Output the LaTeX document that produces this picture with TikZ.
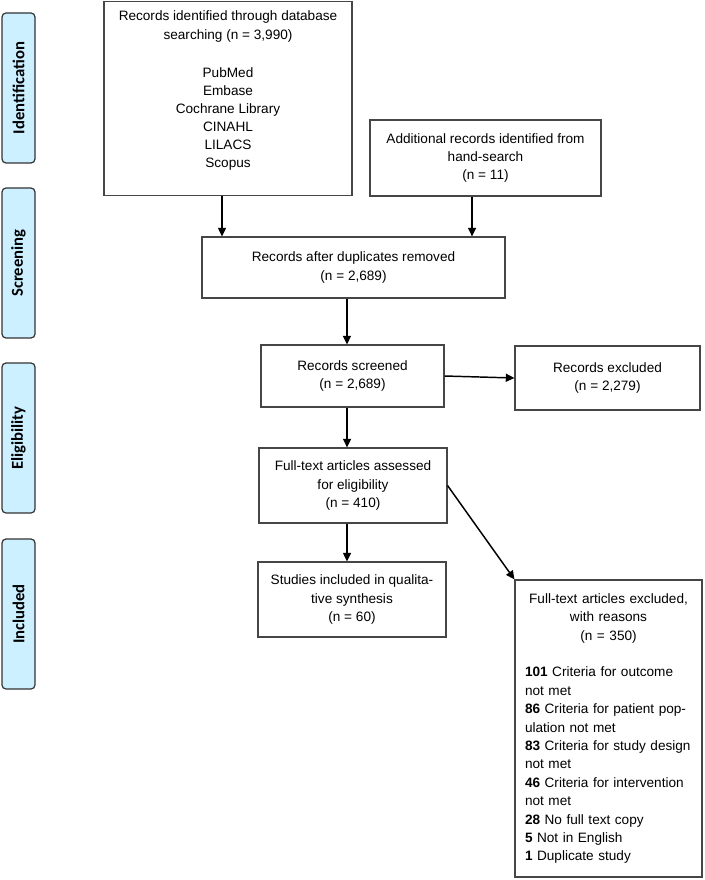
\documentclass[tikz,border=0pt]{standalone}
\usepackage{fontspec}
\setmainfont{Liberation Sans}
\newfontfamily\phasefont{Carlito}
\usetikzlibrary{arrows.meta}

\definecolor{phaseblue}{RGB}{204,240,255}
\definecolor{boxline}{RGB}{70,70,70}

\tikzset{
  flowbox/.style={draw=boxline,line width=0.8pt,inner sep=0pt,align=center,
    font=\fontsize{10.2}{13.6}\selectfont},
  phasebox/.style={draw=black!80,fill=phaseblue,line width=0.9pt,rounded corners=3pt,
    rotate=90,inner sep=0pt,minimum width=112.5pt,minimum height=24.75pt,
    font=\phasefont\bfseries\fontsize{12.5}{14}\selectfont},
  flowarrow/.style={line width=1.1pt,-{Triangle[length=6.5pt,width=6pt]}}
}

\begin{document}
\begin{tikzpicture}[x=0.75pt,y=0.75pt,yscale=-1,xscale=1]
\useasboundingbox (0,0) rectangle (705,880);

% Phase labels
\node [phasebox] (identification) at (18.5,88) {Identification};
\node [phasebox] (screening) at (18.5,263) {Screening};
\node [phasebox] (eligibility) at (18.5,438) {Eligibility};
\node [phasebox] (included) at (18.5,614) {Included};

% Identification boxes
\node [flowbox,minimum width=186pt,minimum height=145pt] (database) at (228,98.5)
  {Records identified through database\\searching (n = 3,990)\\[15pt]PubMed\\Embase\\Cochrane Library\\CINAHL\\LILACS\\Scopus\\[0pt]\mbox{}};
\node [flowbox,minimum width=173.25pt,minimum height=57pt] (handsearch) at (485.5,158)
  {Additional records identified from\\hand-search\\(n = 11)};

% Screening boxes
\node [flowbox,minimum width=227.25pt,minimum height=45.75pt] (duplicates) at (353.5,267.5)
  {Records after duplicates removed\\(n = 2,689)};
\node [flowbox,minimum width=137.25pt,minimum height=46.5pt] (screened) at (352.5,376)
  {Records screened\\(n = 2,689)};
\node [flowbox,minimum width=138.75pt,minimum height=48pt] (excluded) at (607.5,378)
  {Records excluded\\(n = 2,279)};

% Eligibility and included boxes
\node [flowbox,minimum width=141pt,minimum height=56.25pt] (fulltext) at (353,485.5)
  {Full-text articles assessed\\for eligibility\\(n = 410)};
\node [flowbox,minimum width=141pt,minimum height=56.25pt] (synthesis) at (352,599.5)
  {Studies included in qualita-\\tive synthesis\\(n = 60)};
\node [flowbox,minimum width=140.25pt,minimum height=222.75pt,text width=125.25pt,
  inner xsep=7.5pt,align=left,font=\fontsize{10.2}{13.8}\selectfont] (reasons) at (608.5,728.5)
  {{\centering Full-text articles excluded,\\with reasons\\(n = 350)\par}
   \vspace{13.8pt}
   \textbf{101} Criteria for outcome\\not met\\
   \textbf{86} Criteria for patient pop-\\ulation not met\\
   \textbf{83} Criteria for study design\\not met\\
   \textbf{46} Criteria for intervention\\not met\\
   \textbf{28} No full text copy\\
   \textbf{5} Not in English\\
   \textbf{1} Duplicate study};

% Arrows
\draw [flowarrow] ([xshift=-4.5pt]database.south) -- ([xshift=-4.5pt]database.south |- duplicates.north);
\draw [flowarrow] ([xshift=-10.1pt]handsearch.south) -- ([xshift=-10.1pt]handsearch.south |- duplicates.north);
\draw [flowarrow] ([xshift=-4.9pt]duplicates.south) -- ([xshift=-4.9pt]duplicates.south |- screened.north);
\draw [flowarrow] (screened.east) -- (excluded.west);
\draw [flowarrow] ([xshift=-4.1pt]screened.south) -- ([xshift=-4.1pt]screened.south |- fulltext.north);
\draw [flowarrow] ([xshift=-4.5pt]fulltext.south) -- ([xshift=-4.5pt]fulltext.south |- synthesis.north);
\draw [flowarrow] (fulltext.east) -- (reasons.north west);

\end{tikzpicture}
\end{document}
